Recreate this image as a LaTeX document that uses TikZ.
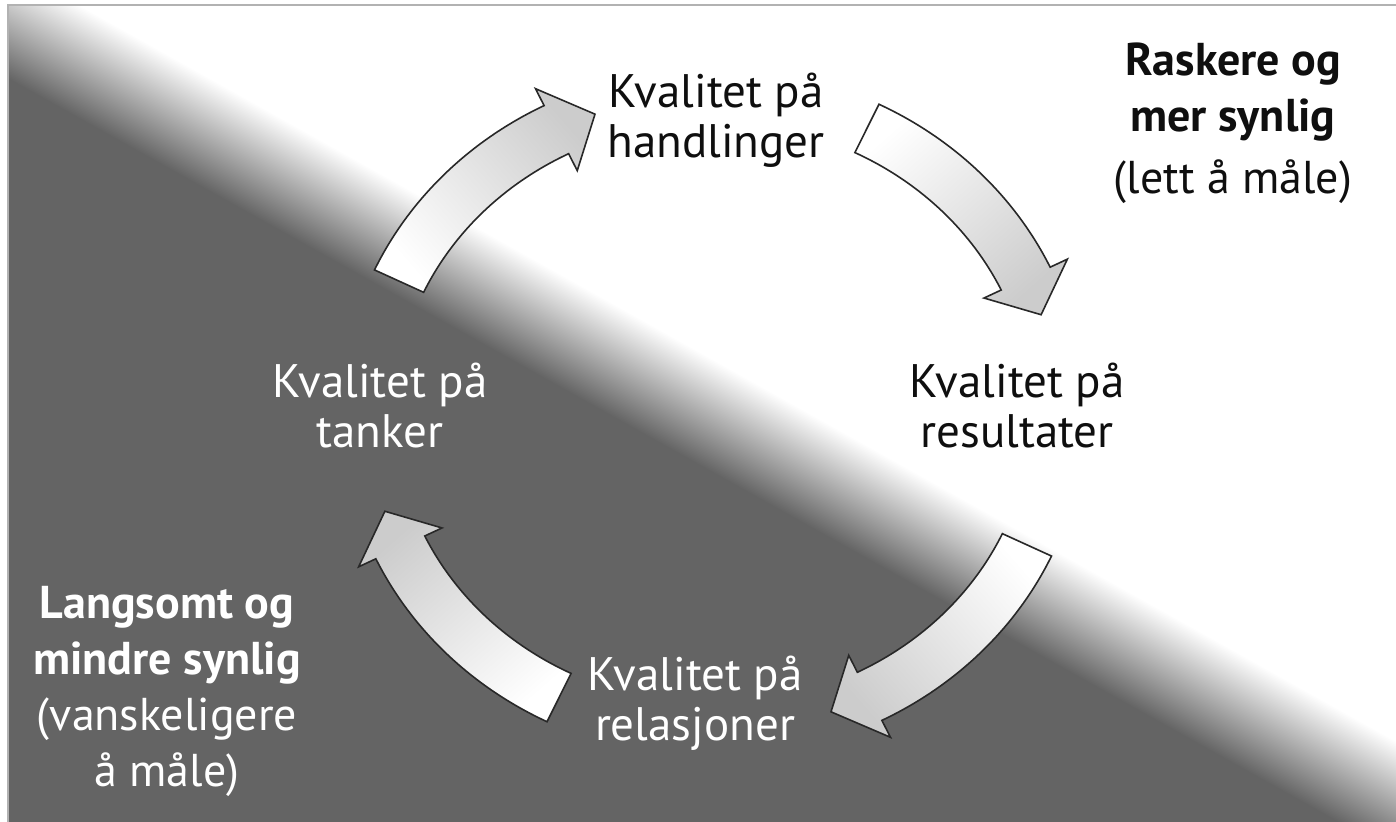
\documentclass[tikz,border=0pt]{standalone}
\usepackage{fontspec}
\setmainfont{PT Sans}
\definecolor{bgdark}{RGB}{100,100,100}
\definecolor{arrowline}{RGB}{40,40,40}
\definecolor{txtdark}{RGB}{15,15,15}

\begin{document}
\begin{tikzpicture}[x=0.5pt, y=0.5pt,
                    cyc/.style = {align=center, inner sep=0pt, font=\fontsize{23.5}{25}\selectfont},
                    note/.style = {align=center, inner sep=0pt, font=\fontsize{23}{28}\selectfont},
                    blockarrow/.style = {draw=arrowline, line width=0.8pt, top color=black!20, bottom color=white}]
                    \useasboundingbox (-713,-409) rectangle (683,413);

                    % background: dark lower left, white upper right
                    \begin{scope}
                        \clip (-705,-409) rectangle (683,408);
                        \fill[bgdark] (-705,-409) rectangle (683,408);
                        \begin{scope}[transform canvas={rotate=-29.2}]
                            \fill[white] (-1200,46) rectangle (1200,1200);
                            \shade[bottom color=bgdark, top color=white] (-1200,-52) rectangle (1200,47);
                        \end{scope}
                    \end{scope}
                    \draw[black!30, line width=0.8pt] (-705,-409) -- (-705,408) -- (683,408);

                    % cycle arrows on an ellipse round the centre
                    \foreach \t/\ang in {155.5/-49, 63.5/-138.5, -24.5/131, 243.5/41} {
                        \pgfmathsetmacro{\s}{\t-38.5}
                        \pgfmathsetmacro{\p}{\t-45.5}
                        \draw[blockarrow, shading angle=\ang] (\t:372 and 345)
                            arc[start angle=\t, end angle=\s, x radius=372, y radius=345]
                            -- (\s:391 and 364) -- (\p:345 and 318) -- (\s:299 and 272) -- (\s:318 and 291)
                            arc[start angle=\s, end angle=\t, x radius=318, y radius=291] -- cycle;
                    }

                    \node[cyc, text=txtdark] (handl) at (3,293) {Kvalitet på\\handlinger};
                    \node[cyc, text=txtdark] (result) at (304,7) {Kvalitet på\\resultater};
                    \node[cyc, text=white] (relas) at (-18,-290) {Kvalitet på\\relasjoner};
                    \node[cyc, text=white] (tank) at (-333,7) {Kvalitet på\\tanker};

                    \node[note, text=txtdark] (fast) at (520,290) {\textbf{Raskere og}\\\textbf{mer synlig}\\[3pt](lett å måle)};
                    \node[note, text=white] (slow) at (-546,-278) {\textbf{Langsomt og}\\\textbf{mindre synlig}\\(vanskeligere\\å måle)};
                \end{tikzpicture}
\end{document}
